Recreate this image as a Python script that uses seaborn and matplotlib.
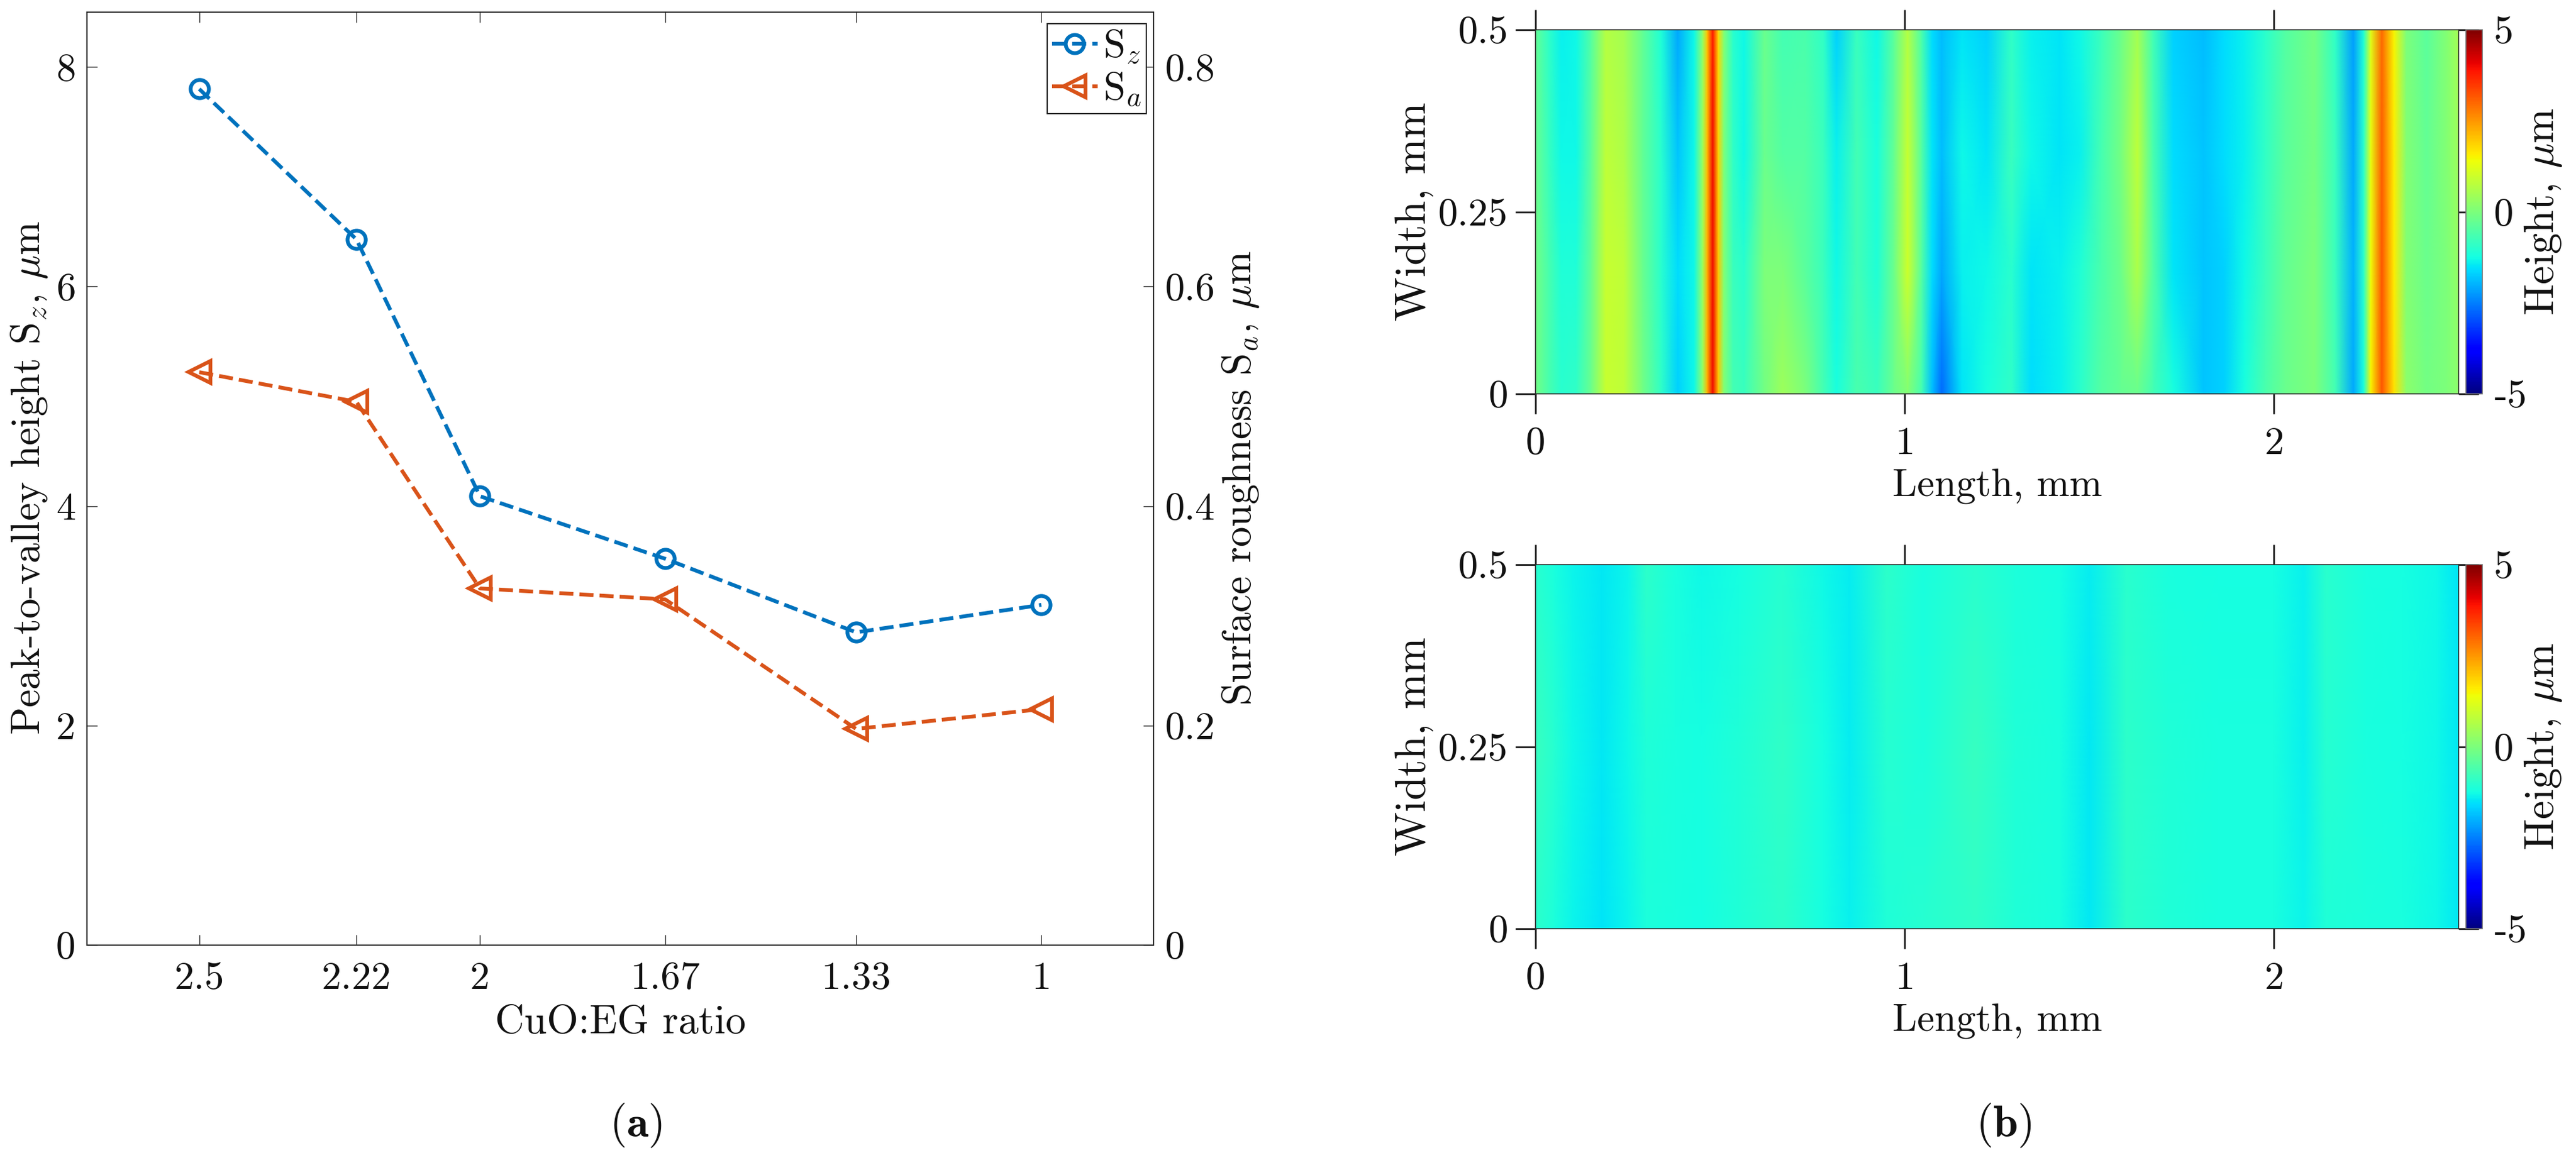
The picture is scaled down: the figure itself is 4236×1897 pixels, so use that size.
import numpy as np
import pandas as pd
import matplotlib
matplotlib.use("Agg")
import matplotlib.pyplot as plt
import seaborn as sns

W, H = 4236, 1897
DPI = 300

# ---- panel (a) data
ratio = [2.5, 2.22, 2, 1.67, 1.33, 1]
ratio_labels = ["2.5", "2.22", "2", "1.67", "1.33", "1"]
sz_values = [7.8, 6.43, 4.09, 3.52, 2.85, 3.10]
sa_values = [0.522, 0.495, 0.325, 0.315, 0.197, 0.215]

# ---- panel (b) upper map: heights read along the length at four widths
upper_length = [0,.035,.07,.11,.15,.19,.24,.29,.34,.385,.43,.453,.465,.48,.495,.51,.535,.565,.62,.67,.73,.78,.815,.87,.925,.97,1.008,1.046,1.074,1.10,1.155,1.222,1.288,1.342,1.42,1.474,1.53,1.584,1.63,1.672,1.727,1.81,1.865,1.92,1.975,2.03,2.11,2.166,2.215,2.243,2.262,2.292,2.325,2.358,2.413,2.468,2.5]
upper_width = [0, .17, .33, .5]
upper_w050 = [-.3,-.9,-1.4,-1.3,-.5,.7,.5,-.3,-1.1,-2.1,-1.3,.3,2.0,3.9,1.8,.1,-1.0,-1.3,-.2,-.7,-.6,-.9,-1.7,-.8,-1.3,-.4,.7,-.6,-1.6,-1.9,-1.5,-1.7,-.9,-1.4,-1.5,-1.3,-.8,-.2,.5,-.7,-1.7,-1.9,-1.6,-1.4,-1.0,-.5,-.1,-.9,-2.2,-1.1,1.2,3,1.5,.0,-.4,.1,.5]
upper_w033 = [-.2,-.8,-1.3,-1.3,-.4,.8,.6,-.3,-1.0,-1.8,-1.3,.4,2.1,4.0,1.9,.0,-.9,-1.3,-.2,-.5,-.5,-.8,-1.4,-.7,-1.2,-.3,.9,-.5,-1.5,-1.9,-1.3,-1.5,-.8,-1.3,-1.5,-1.4,-.7,-.1,.8,-.6,-1.6,-1.8,-1.6,-1.4,-.9,-.4,-.1,-.8,-2.1,-1.0,1.3,3.1,1.6,.1,-.3,.1,.4]
upper_w017 = [-.1,-.6,-1.1,-1.1,-.3,.9,.8,-.2,-1.0,-1.6,-1.3,.4,2.2,4.0,2.0,.1,-.8,-1.0,.0,.0,-.4,-.8,-1.3,-.7,-1.1,-.2,1.0,-.5,-1.6,-2.1,-1.4,-1.3,-1.0,-1.5,-1.4,-1.1,-.6,-.2,.6,-.5,-1.5,-1.8,-1.7,-1.3,-.8,-.3,.0,-.8,-2.0,-1.0,1.4,3.2,1.6,.1,-.2,.0,.3]
upper_w000 = [-.1,-.6,-1.0,-.9,-.2,.9,.8,-.1,-.9,-1.7,-1.3,.3,2.2,4.0,2.0,.1,-.7,-.8,-.1,.4,.0,-.7,-1.2,-.6,-.8,-.2,.1,-.7,-1.9,-2.7,-1.5,-1.2,-.9,-1.6,-1.4,-1.0,-.5,-.3,-.2,-.7,-1.2,-1.8,-1.7,-1.2,-.6,-.2,.0,-.7,-2.1,-1.2,1.5,3.2,1.7,.2,-.1,.0,.2]

# ---- panel (b) lower map
lower_length = [0,.05,.1,.18,.25,.3,.38,.45,.55,.67,.78,.85,.95,1.05,1.19,1.3,1.42,1.5,1.6,1.72,1.85,2.0,2.08,2.14,2.25,2.35,2.44,2.5]
lower_width = [0, .25, .5]
lower_w050 = [-1.0,-1.2,-1.35,-1.45,-1.35,-.95,-1.2,-1.3,-1.25,-1.05,-1.3,-1.42,-.95,-1.2,-1.0,-1.15,-1.25,-1.42,-1.0,-1.2,-1.25,-1.25,-1.4,-1.0,-1.2,-1.25,-1.3,-1.5]
lower_w025 = [-.8,-1.05,-1.3,-1.45,-1.3,-1.1,-1.2,-1.25,-1.1,-.9,-1.25,-1.42,-1.05,-1.15,-.85,-1.1,-1.2,-1.45,-.95,-1.1,-1.2,-1.2,-1.38,-1.05,-1.2,-1.25,-1.3,-1.45]
lower_w000 = [-.95,-1.15,-1.35,-1.5,-1.35,-1.15,-1.2,-1.25,-1.1,-.95,-1.25,-1.4,-1.1,-1.05,-.9,-1.1,-1.2,-1.45,-.95,-1.1,-1.2,-1.2,-1.36,-1.1,-1.15,-1.2,-1.3,-1.45]

length_ticks = [0, 1, 2]
width_ticks = [0, 0.25, 0.5]
width_labels = ["0", "0.25", "0.5"]
cbar_ticks = [-5, 0, 5]
cbar_labels = ["-5", "0", "5"]

BLUE = "#0072BD"
ORANGE = "#D95319"
INK = "#262626"
FS = 15.5
LABEL_FS = 16

sns.set_theme(style="white")
plt.rcParams.update({
    "font.family": ["cmr10", "DejaVu Serif"],
    "mathtext.fontset": "cm",
    "axes.unicode_minus": False,
    "axes.formatter.use_mathtext": True,
    "text.color": "#111111",
    "axes.labelcolor": "#111111",
    "xtick.color": INK,
    "ytick.color": INK,
    "xtick.labelcolor": "#111111",
    "ytick.labelcolor": "#111111",
    "axes.edgecolor": INK,
    "font.size": FS,
})

fig = plt.figure(figsize=(W / DPI, H / DPI), dpi=DPI, facecolor="white")


def box(l, t, r, b):
    return [l / W, 1 - b / H, (r - l) / W, (b - t) / H]


# ---------------- panel (a)
L, T, R, B = 143, 20, 1897, 1555
ax = fig.add_axes(box(L, T, R, B))
ax2 = ax.twinx()
df = pd.DataFrame({"ratio": ratio, "Sz": sz_values, "Sa": sa_values})
sns.lineplot(data=df, x="ratio", y="Sz", ax=ax, color=BLUE, linestyle="--", lw=1.5,
             marker="o", ms=7.2, mfc="none", mec=BLUE, mew=1.5, legend=False,
             errorbar=None, sort=False)
sns.lineplot(data=df, x="ratio", y="Sa", ax=ax2, color=ORANGE, linestyle="--", lw=1.5,
             marker="<", ms=8.5, mfc="none", mec=ORANGE, mew=1.5, legend=False,
             errorbar=None, sort=False)
ax.set_xlim(2.7, 0.8)
ax.set_ylim(0, 8.5)
ax2.set_ylim(0, 0.85)
ax.set_xticks(ratio, ratio_labels)
ax.set_yticks([0, 2, 4, 6, 8], ["0", "2", "4", "6", "8"])
ax2.set_yticks([0, 0.2, 0.4, 0.6, 0.8], ["0", "0.2", "0.4", "0.6", "0.8"])
ax.tick_params(axis="x", direction="in", top=True, bottom=True, length=4.1, width=0.35, pad=6.5, labelsize=FS)
ax.tick_params(axis="y", direction="in", left=True, length=4.1, width=0.35, pad=4.5, labelsize=FS)
ax2.tick_params(axis="y", direction="in", right=True, length=4.1, width=0.35, pad=4.5, labelsize=FS)
for a in (ax, ax2):
    for s in a.spines.values():
        s.set_linewidth(0.45)
        s.set_color(INK)
ax.set_xlabel("CuO:EG ratio", fontsize=LABEL_FS, va="center")
ax.xaxis.set_label_coords(1020 / W, 1 - 1683 / H, transform=fig.transFigure)
ax.set_ylabel(r"Peak-to-valley height S$_z$, $\mu$m", fontsize=LABEL_FS, va="center")
ax.yaxis.set_label_coords(48 / W, 1 - 786 / H, transform=fig.transFigure)
ax2.set_ylabel(r"Surface roughness S$_a$, $\mu$m", fontsize=LABEL_FS, va="center", rotation=90)
ax2.yaxis.set_label_coords(2040 / W, 1 - 786 / H, transform=fig.transFigure)
handles = [ax.lines[0], ax2.lines[0]]
leg = ax2.legend(handles, [r"S$_z$", r"S$_a$"], loc="upper left",
                 bbox_to_anchor=((1722 - L) / (R - L), 1 - (39 - T) / (B - T)),
                 fontsize=FS, frameon=True, fancybox=False, framealpha=1, edgecolor=INK,
                 handlelength=1.16, handletextpad=0.14, borderpad=0.12, borderaxespad=0, labelspacing=0.12)
leg.get_frame().set_linewidth(0.5)

# ---------------- panel (b)
def heat_panel(t, b, xs, ys, rows):
    l, r = 2525, 4043
    a = fig.add_axes(box(l, t, r, b))
    mesh = a.pcolormesh(xs, ys, np.array(rows), cmap="jet", vmin=-5, vmax=5,
                        shading="gouraud", rasterized=True)
    a.set_xlim(0, 2.5)
    a.set_ylim(0, 0.5)
    a.set_xticks(length_ticks, [str(v) for v in length_ticks])
    a.set_yticks(width_ticks, width_labels)
    a.tick_params(axis="x", direction="out", top=True, bottom=True, length=7.9, width=0.7, pad=5.0, labelsize=FS)
    a.tick_params(axis="y", direction="out", left=True, right=True, length=7.9, width=0.7, pad=3, labelsize=FS)
    for s in a.spines.values():
        s.set_linewidth(0.4)
        s.set_color(INK)
    a.set_xlabel("Length, mm", fontsize=FS, va="center")
    a.xaxis.set_label_coords(3284 / W, 1 - (b + 153) / H, transform=fig.transFigure)
    a.set_ylabel("Width, mm", fontsize=17, va="center")
    a.yaxis.set_label_coords(2326 / W, 1 - (t + b) / 2 / H, transform=fig.transFigure)
    c = fig.add_axes(box(4055, t, 4082, b))
    cb = fig.colorbar(mesh, cax=c)
    cb.set_ticks(cbar_ticks, labels=cbar_labels)
    c.tick_params(length=0, pad=4.5, labelsize=FS)
    cb.outline.set_linewidth(0.4)
    cb.outline.set_edgecolor("#777777")
    cb.set_label(r"Height, $\mu$m", fontsize=16.5, va="center")
    c.yaxis.set_label_coords(4182 / W, 1 - (t + b) / 2 / H, transform=fig.transFigure)
    return a


heat_panel(49, 648, upper_length, upper_width, [upper_w000, upper_w017, upper_w033, upper_w050])
heat_panel(929, 1528, lower_length, lower_width, [lower_w000, lower_w025, lower_w050])

fig.text(1045 / W, 1 - 1852 / H, r"($\mathbf{a}$)", ha="center", va="center", fontsize=17.5)
fig.text(3295 / W, 1 - 1852 / H, r"($\mathbf{b}$)", ha="center", va="center", fontsize=17.5)

fig.savefig("out.png", dpi=DPI, facecolor="white")
